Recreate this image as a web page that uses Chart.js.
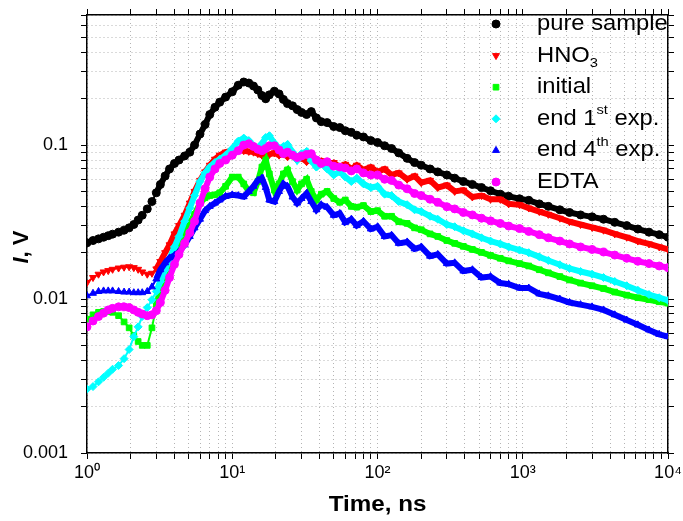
<!DOCTYPE html>
<html>
<head>
<meta charset="utf-8">
<script src="https://cdn.jsdelivr.net/npm/chart.js@4.4.1/dist/chart.umd.min.js"></script>
<style>
  html, body { margin: 0; padding: 0; background: #fff; }
  #wrap { width: 683px; height: 521px; }
</style>
</head>
<body>
<div id="wrap"><canvas id="decayChart" width="683" height="521"></canvas></div>
<script>
// time axis, ns
const time = [1, 1.1, 1.2, 1.3, 1.4, 1.5, 1.65, 1.8, 1.95, 2.1, 2.25, 2.4, 2.6, 2.8, 3.0, 3.2, 3.45, 3.7, 4.0, 4.3,
  4.7, 5.1, 5.5, 6.0, 6.5, 7.0, 7.6, 8.2, 9.0, 10, 11, 12, 13, 14, 15, 16, 17, 18, 19.5, 21,
  22.5, 24, 26, 28, 30, 32.5, 35, 38, 41, 45, 50, 55, 60, 66, 72, 80, 90, 100, 112, 125,
  140, 160, 180, 200, 230, 260, 300, 340, 390, 450, 520, 600, 700, 800, 950, 1100, 1300, 1500, 1800, 2100,
  2500, 3000, 3600, 4300, 5200, 6200, 7400, 8700, 10000];

const pureSample = [0.0232, 0.0240, 0.0246, 0.0252, 0.0258, 0.0264, 0.0272, 0.0280, 0.0290, 0.0305, 0.0326, 0.0350, 0.0385, 0.0430, 0.0490, 0.0555, 0.0630, 0.0700, 0.0760, 0.0800,
  0.0850, 0.0900, 0.100, 0.118, 0.136, 0.158, 0.176, 0.190, 0.205, 0.222, 0.245, 0.257, 0.253, 0.242, 0.228, 0.210, 0.200, 0.212, 0.224, 0.215,
  0.198, 0.186, 0.180, 0.170, 0.163, 0.158, 0.165, 0.150, 0.142, 0.140, 0.132, 0.130, 0.124, 0.121, 0.116, 0.113, 0.107, 0.104, 0.099, 0.095,
  0.089, 0.082, 0.077, 0.074, 0.070, 0.067, 0.064, 0.061, 0.058, 0.0555, 0.053, 0.0505, 0.048, 0.0465, 0.0448, 0.0438, 0.0415, 0.0400, 0.0380, 0.0365,
  0.0352, 0.0342, 0.0330, 0.0315, 0.0300, 0.0285, 0.0272, 0.0262, 0.0252];

const hno3 = [0.0128, 0.0138, 0.0145, 0.0150, 0.0153, 0.0156, 0.0159, 0.0161, 0.0162, 0.0160, 0.0156, 0.0150, 0.0145, 0.0147, 0.0157, 0.0175, 0.0200, 0.0225, 0.0265, 0.0300,
  0.0350, 0.0420, 0.050, 0.059, 0.067, 0.074, 0.081, 0.086, 0.090, 0.092, 0.093, 0.092, 0.091, 0.090, 0.088, 0.086, 0.083, 0.087, 0.089, 0.086,
  0.088, 0.084, 0.086, 0.080, 0.083, 0.078, 0.081, 0.076, 0.079, 0.074, 0.077, 0.072, 0.075, 0.070, 0.074, 0.069, 0.072, 0.067, 0.070, 0.064,
  0.066, 0.060, 0.063, 0.057, 0.059, 0.053, 0.055, 0.050, 0.051, 0.046, 0.047, 0.0445, 0.0445, 0.0415, 0.041, 0.0390, 0.0370, 0.0355, 0.0335, 0.0318,
  0.0305, 0.0292, 0.0280, 0.0265, 0.0252, 0.0238, 0.0228, 0.0218, 0.0210];

const initial = [0.0074, 0.0079, 0.0082, 0.0083, 0.0083, 0.0082, 0.0078, 0.0071, 0.0065, 0.0058, 0.0053, 0.0050, 0.0050, 0.0065, 0.0090, 0.0118, 0.0148, 0.0172, 0.0198, 0.0222,
  0.0265, 0.0310, 0.0355, 0.0420, 0.0455, 0.0470, 0.0475, 0.0490, 0.0540, 0.0620, 0.0620, 0.0560, 0.0500, 0.0490, 0.0580, 0.0720, 0.0800, 0.0650, 0.0510, 0.0560,
  0.0650, 0.0690, 0.0580, 0.0510, 0.0560, 0.0600, 0.0500, 0.0440, 0.0480, 0.0500, 0.0450, 0.0425, 0.0440, 0.0400, 0.0395, 0.0405, 0.0370, 0.0375, 0.0345, 0.0345,
  0.0318, 0.0310, 0.0290, 0.0282, 0.0265, 0.0255, 0.0240, 0.0230, 0.0220, 0.0210, 0.0201, 0.0192, 0.0184, 0.0177, 0.0170, 0.0164, 0.0155, 0.0148, 0.0140, 0.0133,
  0.0127, 0.0122, 0.0117, 0.0111, 0.0106, 0.0102, 0.0099, 0.0096, 0.0094];

const end1st = [0.0026, 0.0027, 0.0029, 0.0031, 0.0033, 0.0035, 0.0037, 0.0041, 0.0047, 0.0057, 0.0066, 0.0077, 0.0088, 0.0099, 0.0112, 0.0130, 0.0155, 0.0182, 0.0218, 0.0255,
  0.0320, 0.0390, 0.0470, 0.0580, 0.0660, 0.0720, 0.0770, 0.0810, 0.0860, 0.0950, 0.1060, 0.1110, 0.1070, 0.0990, 0.0950, 0.1020, 0.1120, 0.1150, 0.1030, 0.0950,
  0.0980, 0.1010, 0.0900, 0.0800, 0.0880, 0.0910, 0.0790, 0.0720, 0.0760, 0.0700, 0.0640, 0.0670, 0.0620, 0.0580, 0.0610, 0.0560, 0.0530, 0.0540, 0.0480, 0.0470,
  0.0430, 0.0410, 0.0380, 0.0370, 0.0345, 0.0330, 0.0305, 0.0295, 0.0278, 0.0265, 0.0250, 0.0238, 0.0228, 0.0218, 0.0208, 0.0200, 0.0188, 0.0178, 0.0167, 0.0158,
  0.0151, 0.0145, 0.0138, 0.0130, 0.0122, 0.0114, 0.0107, 0.0102, 0.0098];

const end4th = [0.0105, 0.0109, 0.0112, 0.0113, 0.0113, 0.0113, 0.0112, 0.0111, 0.0111, 0.0110, 0.0110, 0.0110, 0.0112, 0.0120, 0.0135, 0.0155, 0.0172, 0.0185, 0.0192, 0.0202,
  0.0225, 0.0255, 0.0290, 0.0330, 0.0375, 0.0400, 0.0420, 0.0440, 0.0465, 0.0475, 0.0470, 0.0462, 0.0500, 0.0540, 0.0590, 0.0610, 0.0530, 0.0440, 0.0430, 0.0500,
  0.0560, 0.0540, 0.0460, 0.0420, 0.0450, 0.0485, 0.0430, 0.0380, 0.0410, 0.0395, 0.0350, 0.0360, 0.0315, 0.0330, 0.0300, 0.0320, 0.0285, 0.0295, 0.0255, 0.0260,
  0.0230, 0.0235, 0.0212, 0.0218, 0.0190, 0.0195, 0.0170, 0.0172, 0.0152, 0.0155, 0.0138, 0.0140, 0.0127, 0.0125, 0.0118, 0.0118, 0.0108, 0.0105, 0.0100, 0.0095,
  0.0092, 0.0089, 0.0085, 0.0079, 0.0073, 0.0068, 0.0063, 0.0059, 0.0057];

const edta = [0.0066, 0.0072, 0.0077, 0.0081, 0.0085, 0.0087, 0.0089, 0.0089, 0.0088, 0.0085, 0.0082, 0.0080, 0.0078, 0.0079, 0.0084, 0.0095, 0.0114, 0.0138, 0.0168, 0.0195,
  0.0230, 0.0270, 0.0320, 0.0420, 0.0520, 0.0620, 0.0700, 0.0760, 0.0800, 0.0860, 0.0920, 0.1000, 0.1020, 0.0980, 0.0940, 0.0920, 0.0950, 0.0990, 0.0990, 0.0930,
  0.0880, 0.0900, 0.0860, 0.0830, 0.0850, 0.0870, 0.0880, 0.0800, 0.0760, 0.0780, 0.0730, 0.0720, 0.0710, 0.0680, 0.0700, 0.0660, 0.0640, 0.0640, 0.0600, 0.0590,
  0.0550, 0.0520, 0.0485, 0.0470, 0.0445, 0.0425, 0.0398, 0.0385, 0.0365, 0.0352, 0.0335, 0.0322, 0.0310, 0.0298, 0.0287, 0.0275, 0.0262, 0.0250, 0.0238, 0.0228,
  0.0218, 0.0210, 0.0202, 0.0193, 0.0184, 0.0176, 0.0170, 0.0164, 0.0160];

const seriesValues = [pureSample, hno3, initial, end1st, end4th, edta];
const seriesLabels = ["pure sample", "HNO_{3}", "initial", "end 1^{st} exp.", "end 4^{th} exp.", "EDTA"];
const seriesColors = ["#000000", "#ff0000", "#00ff00", "#00ffff", "#0000ff", "#ff00ff"];
const seriesMarkers = ["circle", "triangle", "rect", "rectRot", "triangle", "circle"];
const markerRotation = [0, 180, 0, 0, 0, 0];

const xMajorTicks = [1, 10, 100, 1000, 10000];
const xTickLabels = ["10⁰", "10¹", "10²", "10³", "10⁴"];
const yMajorTicks = [0.001, 0.01, 0.1];
const yTickLabels = ["0.001", "0.01", "0.1"];

const FONT = "'Liberation Sans', Arial, Helvetica, sans-serif";
Chart.defaults.font.family = FONT;
Chart.defaults.color = "#000";

// 1..9 in every decade between lo and hi
function logTicks(lo, hi) {
  const out = [];
  for (let e = Math.floor(Math.log10(lo)); e <= Math.ceil(Math.log10(hi)); e++) {
    for (let m = 1; m <= 9; m++) {
      const v = Number((m * Math.pow(10, e)).toPrecision(2));
      if (v >= lo * 0.999 && v <= hi * 1.001) out.push({ value: v });
    }
  }
  return out;
}

// fixed box sizes so the plot area lands where the original one is
function fixSize(w, h) {
  return s => {
    if (w != null) s.width = w;
    if (h != null) s.height = h;
    s.paddingTop = 0; s.paddingBottom = 0; s.paddingLeft = 0; s.paddingRight = 0;
  };
}

const gridOpts = {
  color: "#b4b4b4",
  lineWidth: 1,
  tickColor: "#000",
  tickLength: 6,
  tickWidth: 1,
  tickBorderDash: []
};
const borderOpts = { color: "#000", width: 1.5, dash: [1, 3] };

function drawMarker(ctx, i, x, y, r) {
  ctx.fillStyle = seriesColors[i];
  ctx.strokeStyle = seriesColors[i];
  if (Chart.helpers && Chart.helpers.drawPoint) {
    Chart.helpers.drawPoint(ctx, { pointStyle: seriesMarkers[i], rotation: markerRotation[i], radius: r, borderWidth: 1 }, x, y);
  } else {
    ctx.beginPath();
    ctx.arc(x, y, r, 0, Math.PI * 2);
    ctx.fill();
  }
}

function drawRichText(ctx, text, x, y, size, stretch) {
  const parts = text.split(/(\^\{[^}]*\}|_\{[^}]*\})/).filter(p => p.length);
  ctx.save();
  ctx.translate(x, y);
  ctx.scale(stretch, 1);
  let cx = 0;
  ctx.textAlign = "left";
  ctx.textBaseline = "middle";
  ctx.fillStyle = "#000";
  parts.forEach(p => {
    let dy = 0, fs = size, t = p;
    if (p.startsWith("^{")) { t = p.slice(2, -1); fs = size * 0.62; dy = -size * 0.38; }
    else if (p.startsWith("_{")) { t = p.slice(2, -1); fs = size * 0.62; dy = size * 0.33; }
    ctx.font = fs + "px " + FONT;
    ctx.fillText(t, cx, dy);
    cx += ctx.measureText(t).width;
  });
  ctx.restore();
}

const insideLegend = {
  id: "insideLegend",
  afterDraw(chart) {
    const { ctx, chartArea } = chart;
    ctx.save();
    seriesLabels.forEach((label, i) => {
      const y = chartArea.top + 9 + i * 31.6;
      drawMarker(ctx, i, chartArea.right - 172, y, 4);
      drawRichText(ctx, label, chartArea.right - 131, y, 22, 1.08);
    });
    ctx.restore();
  }
};

const axisTitles = {
  id: "axisTitles",
  afterDraw(chart) {
    const { ctx, chartArea } = chart;
    ctx.save();
    ctx.fillStyle = "#000";
    ctx.textBaseline = "middle";
    // x title
    ctx.save();
    ctx.translate((chartArea.left + chartArea.right) / 2, 505);
    ctx.scale(1.1, 1);
    ctx.textAlign = "center";
    ctx.font = "bold 22px " + FONT;
    ctx.fillText("Time, ns", 0, 0);
    ctx.restore();
    // y title, italic I
    ctx.translate(22, (chartArea.top + chartArea.bottom) / 2 + 13);
    ctx.rotate(-Math.PI / 2);
    ctx.textAlign = "left";
    const a = "I", b = ", V";
    ctx.font = "italic bold 22px " + FONT;
    const wa = ctx.measureText(a).width;
    ctx.font = "bold 22px " + FONT;
    const wb = ctx.measureText(b).width;
    const start = -(wa + wb) / 2;
    ctx.font = "italic bold 22px " + FONT;
    ctx.fillText(a, start, 0);
    ctx.font = "bold 22px " + FONT;
    ctx.fillText(b, start + wa, 0);
    ctx.restore();
  }
};

const datasets = seriesValues.map((vals, i) => ({
  label: seriesLabels[i],
  data: time.map((t, k) => ({ x: t, y: vals[k] })),
  borderColor: seriesColors[i],
  backgroundColor: seriesColors[i],
  pointBackgroundColor: seriesColors[i],
  pointBorderColor: seriesColors[i],
  pointStyle: seriesMarkers[i],
  pointRotation: markerRotation[i],
  pointRadius: 4,
  pointBorderWidth: 1,
  borderWidth: 6,
  tension: 0,
  order: seriesValues.length - i,
  segment: { borderWidth: c => (c.p0.parsed.x < 3 ? 2 : 6) }
}));

new Chart(document.getElementById("decayChart"), {
  type: "line",
  data: { datasets },
  plugins: [insideLegend, axisTitles],
  options: {
    responsive: false,
    animation: false,
    events: [],
    layout: { padding: 0 },
    plugins: { legend: { display: false }, tooltip: { enabled: false } },
    scales: {
      x: {
        type: "logarithmic",
        position: "bottom",
        min: 1,
        max: 10000,
        afterBuildTicks: s => { s.ticks = logTicks(s.min, s.max); },
        afterFit: fixSize(null, 68),
        grid: gridOpts,
        border: borderOpts,
        ticks: {
          autoSkip: false,
          maxRotation: 0,
          padding: 3,
          font: { size: 18 },
          callback: v => { const k = xMajorTicks.indexOf(v); return k >= 0 ? xTickLabels[k] : ""; }
        }
      },
      x2: {
        type: "logarithmic",
        position: "top",
        min: 1,
        max: 10000,
        afterBuildTicks: s => { s.ticks = logTicks(s.min, s.max); },
        afterFit: fixSize(null, 15),
        grid: Object.assign({}, gridOpts, { drawOnChartArea: false }),
        border: { color: "#000", width: 1.5 },
        ticks: { display: false, autoSkip: false }
      },
      y: {
        type: "logarithmic",
        position: "left",
        min: 0.001,
        max: 0.7,
        afterBuildTicks: s => { s.ticks = logTicks(s.min, s.max); },
        afterFit: fixSize(87, null),
        grid: gridOpts,
        border: borderOpts,
        ticks: {
          autoSkip: false,
          padding: 13,
          font: { size: 18 },
          callback: v => { const k = yMajorTicks.indexOf(v); return k >= 0 ? yTickLabels[k] : ""; }
        }
      },
      y2: {
        type: "logarithmic",
        position: "right",
        min: 0.001,
        max: 0.7,
        afterBuildTicks: s => { s.ticks = logTicks(s.min, s.max); },
        afterFit: fixSize(15, null),
        grid: Object.assign({}, gridOpts, { drawOnChartArea: false }),
        border: { color: "#000", width: 1.5 },
        ticks: { display: false, autoSkip: false }
      }
    }
  }
});
</script>
</body>
</html>
